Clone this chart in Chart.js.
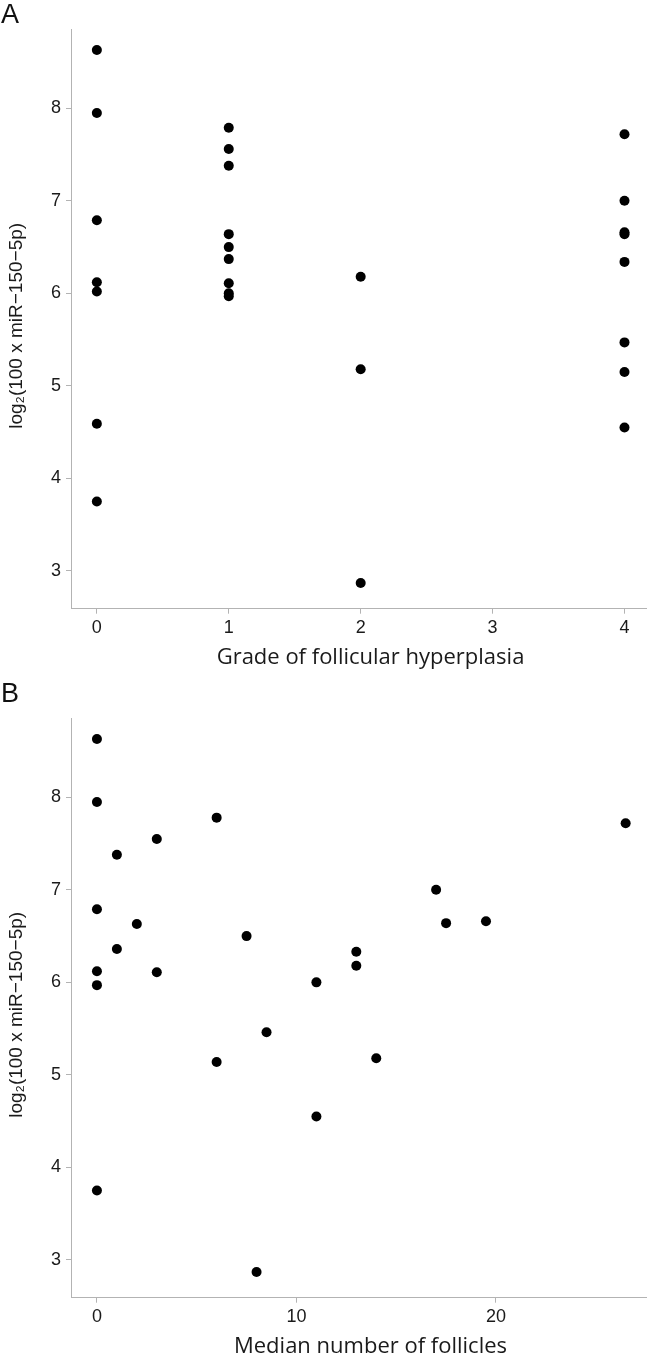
<!DOCTYPE html>
<html>
<head>
<meta charset="utf-8">
<script src="https://cdn.jsdelivr.net/npm/chart.js@4/dist/chart.umd.min.js"></script>
<style>
  html, body { margin:0; padding:0; background:#fff; width:651px; height:1357px; overflow:hidden; }
  #wrap { position:relative; width:651px; height:1357px; }
  canvas { position:absolute; left:0; }
  .plabel { position:absolute; left:1px; font-family:"Liberation Sans", Arial, sans-serif; font-size:27px; line-height:27px; color:#111; }
</style>
</head>
<body>
<div id="wrap">
  <canvas id="cA" width="651" height="689" style="top:0px"></canvas>
  <canvas id="cB" width="651" height="689" style="top:689px"></canvas>
  <div class="plabel" style="top:1px">A</div>
  <div class="plabel" style="top:680px">B</div>
</div>
<script>
// ---- Data ----
const gradeX = [0,0,0,0,0,0,0, 1,1,1,1,1,1,1,1,1, 2,2,2, 4,4,4,4,4,4,4,4];
const gradeY = [8.63,7.95,6.79,6.12,6.02,4.59,3.75, 7.79,7.56,7.38,6.64,6.50,6.37,6.11,6.00,5.97, 6.18,5.18,2.87, 7.72,7.00,6.66,6.64,6.34,5.47,5.15,4.55];

const follX = [0,0,0,0,0,0, 6,3,1,2,7.5,1,13,3,13,11,8.5,6, 17,17.5,19.5,26.5,14,11,8];
const follY = [8.63,7.95,6.79,6.12,5.97,3.75, 7.78,7.55,7.38,6.63,6.50,6.36,6.33,6.11,6.18,6.00,5.46,5.14, 7.00,6.64,6.66,7.72,5.18,4.55,2.87];

const yTicks = [3,4,5,6,7,8];
const gradeTicks = [0,1,2,3,4];
const follTicks = [0,10,20];

const yTitle = "log\u2082(100 x miR\u2212150\u22125p)";
const xTitleA = "Grade of follicular hyperplasia";
const xTitleB = "Median number of follicles";

// ---- Chart setup ----
const AXIS = '#b3b3b3';
const TXT = '#1a1a1a';
const tickFont = { family: '"Liberation Sans", Arial, sans-serif', size: 18, lineHeight: 1.2 };

// draws the axis titles at the offsets seen in the reference
const axisTitles = {
  id: 'axisTitles',
  afterDraw(chart, args, opts) {
    const ctx = chart.ctx, ca = chart.chartArea;
    ctx.save();
    ctx.fillStyle = TXT;
    ctx.textAlign = 'center';
    ctx.textBaseline = 'middle';
    ctx.font = '22px "Open Sans", sans-serif';
    ctx.fillText(opts.x, (ca.left + ca.right) / 2 + 12, ca.bottom + 49);
    ctx.translate(17, (ca.top + ca.bottom) / 2 + 7);
    ctx.rotate(-Math.PI / 2);
    ctx.font = '19px "Liberation Sans", Arial, sans-serif';
    ctx.fillText(opts.y, 0, 0);
    ctx.restore();
  }
};

function makeChart(id, xs, ys, xMin, xMax, xTickVals, xTitle) {
  const pts = xs.map((x, i) => ({ x: x, y: ys[i] }));
  return new Chart(document.getElementById(id), {
    type: 'scatter',
    data: { datasets: [{ data: pts, backgroundColor: '#000', borderColor: '#000', pointRadius: 5, pointBorderWidth: 0, pointHoverRadius: 5 }] },
    plugins: [axisTitles],
    options: {
      responsive: false, animation: false, devicePixelRatio: 1,
      layout: { padding: { top: 29, right: 2, bottom: 0, left: 0 } },
      plugins: { legend: { display: false }, tooltip: { enabled: false }, axisTitles: { x: xTitle, y: yTitle } },
      scales: {
        x: {
          type: 'linear', min: xMin, max: xMax,
          afterBuildTicks: s => { s.ticks = xTickVals.map(v => ({ value: v })); },
          afterFit: s => { s.height = 80.3; },
          border: { display: true, color: AXIS, width: 1 },
          grid: { display: true, drawOnChartArea: false, drawTicks: true, tickLength: 5, color: AXIS },
          ticks: { color: TXT, font: tickFont, padding: 4, maxRotation: 0, autoSkip: false }
        },
        y: {
          type: 'linear', min: 2.592, max: 8.857,
          afterBuildTicks: s => { s.ticks = yTicks.map(v => ({ value: v })); },
          afterFit: s => { s.width = 71; },
          border: { display: true, color: AXIS, width: 1 },
          grid: { display: true, drawOnChartArea: false, drawTicks: true, tickLength: 5, color: AXIS },
          ticks: { color: TXT, font: tickFont, padding: 5, autoSkip: false }
        }
      }
    }
  });
}

makeChart('cA', gradeX, gradeY, -0.196, 4.163, gradeTicks, xTitleA);
makeChart('cB', follX, follY, -1.30, 27.52, follTicks, xTitleB);
</script>
</body>
</html>
